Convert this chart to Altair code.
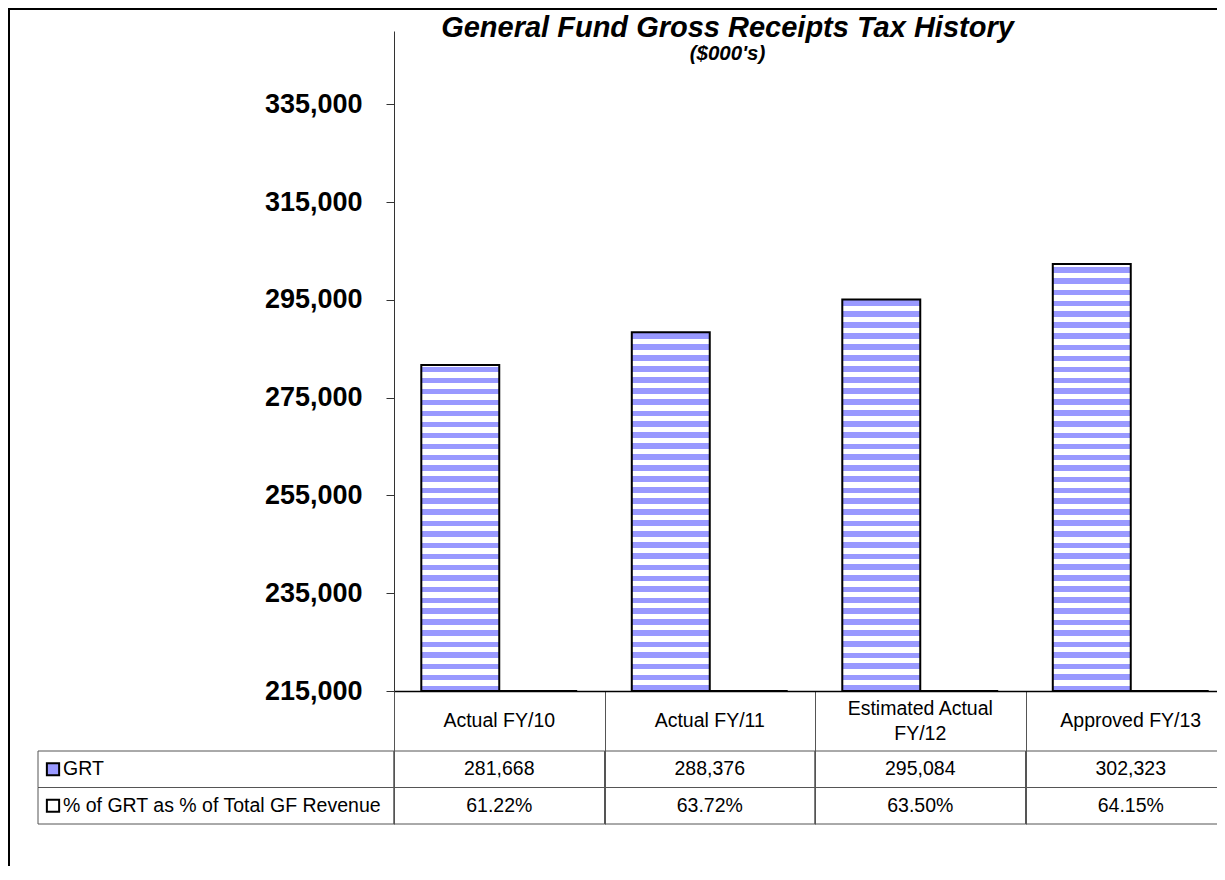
import altair as alt
import pandas as pd

# ---------------- data ----------------
categories = ["Actual FY/10", "Actual FY/11", "Estimated Actual FY/12", "Approved FY/13"]
header_labels = ["Actual FY/10", "Actual FY/11", "Estimated Actual\nFY/12", "Approved FY/13"]
grt_values = [281668, 288376, 295084, 302323]
pct_values = [61.22, 63.72, 63.50, 64.15]
series_names = ["GRT", "% of GRT as % of Total GF Revenue"]
row_ids = ["GRT", "pct"]
y_ticks = [215000, 235000, 255000, 275000, 295000, 315000, 335000]
y_domain = [215000, 350000]

FONT = "Liberation Sans"
LAV = "#9999FF"
PLOT_W = 823
PLOT_H = 660
X_RANGE = [0, 842]
STRIPE = 5.5

bars_df = pd.DataFrame({
    "category": categories * 2,
    "series": [series_names[0]] * 4 + [series_names[1]] * 4,
    "value": grt_values + pct_values,
})

table_df = pd.DataFrame({
    "category": categories * 2,
    "row": [row_ids[0]] * 4 + [row_ids[1]] * 4,
    "text": [f"{v:,}" for v in grt_values] + [f"{v:.2f}%" for v in pct_values],
})

header_df = pd.DataFrame({
    "category": categories,
    "header": header_labels,
    "lines": [h.count("\n") + 1 for h in header_labels],
})

rows_df = pd.DataFrame({"row": row_ids, "label": series_names})


def stripes(value):
    """Horizontal stripe fill (lavender/white) as a hard-stop linear gradient."""
    h = (value - y_domain[0]) / (y_domain[1] - y_domain[0]) * PLOT_H
    bands = []
    pos, i = h, 0
    while pos > 0:
        top = max(pos - STRIPE, 0)
        bands.append((top, pos, LAV if i % 2 == 0 else "white"))
        pos -= STRIPE
        i += 1
    bands.reverse()
    stops = []
    for top, bot, c in bands:
        stops.append(alt.GradientStop(offset=top / h, color=c))
        stops.append(alt.GradientStop(offset=bot / h, color=c))
    return alt.LinearGradient(gradient="linear", stops=stops, x1=0, x2=0, y1=0, y2=1)


# ---------------- encodings ----------------
x_axis = alt.Axis(
    title=None, orient="bottom", labels=False,
    tickSize=133, tickBand="extent", tickColor="#555", tickWidth=1,
    domainColor="black", domainWidth=1.5,
)
x_enc = alt.X(
    "category:N", sort=categories,
    scale=alt.Scale(domain=categories, range=X_RANGE, paddingInner=0, paddingOuter=0),
    axis=x_axis,
)
xoff_enc = alt.XOffset(
    "series:N", sort=series_names,
    scale=alt.Scale(domain=series_names, paddingInner=0, paddingOuter=0.35),
)
y_axis = alt.Axis(
    title=None, values=y_ticks, format=",.0f", labelFont=FONT, labelFontSize=27,
    labelFontWeight="bold", labelColor="black", labelPadding=24, tickSize=8,
    tickColor="#333", domainColor="#333", grid=False,
)
y_enc = alt.Y(
    "value:Q",
    scale=alt.Scale(domain=y_domain, clamp=True, zero=False, nice=False),
    axis=y_axis,
)
y_row = alt.Y(
    "row:N", sort=row_ids,
    scale=alt.Scale(domain=row_ids, range=[720, 793], paddingInner=0, paddingOuter=0),
    axis=None,
)

# ---------------- bars ----------------
grt_layers = [
    alt.Chart(bars_df)
    .transform_filter((alt.datum.series == series_names[0]) & (alt.datum.category == c))
    .mark_bar(fill=stripes(v), stroke="black", strokeWidth=2)
    .encode(x=x_enc, xOffset=xoff_enc, y=y_enc)
    for c, v in zip(categories, grt_values)
]
pct_layer = (
    alt.Chart(bars_df)
    .transform_filter(alt.datum.series == series_names[1])
    .mark_bar(fill="white", stroke="black", strokeWidth=2)
    .encode(x=x_enc, xOffset=xoff_enc, y=y_enc)
)
bars = alt.layer(*grt_layers, pct_layer)

# ---------------- data table ----------------
header_single = alt.Chart(header_df).transform_filter(alt.datum.lines == 1).mark_text(
    font=FONT, fontSize=19.5, color="black", align="center", baseline="middle"
).encode(x=x_enc, y=alt.value(690), text="header:N")
header_multi = alt.Chart(header_df).transform_filter(alt.datum.lines > 1).mark_text(
    font=FONT, fontSize=19.5, color="black", align="center", baseline="middle",
    lineBreak="\n", lineHeight=25, dy=-12.5,
).encode(x=x_enc, y=alt.value(690), text="header:N")

cells = alt.Chart(table_df).mark_rect(fillOpacity=0, stroke="#555", strokeWidth=1).encode(
    x=x_enc, y=y_row
)
cell_text = alt.Chart(table_df).mark_text(
    font=FONT, fontSize=19.5, color="black", align="center", baseline="middle"
).encode(x=x_enc, y=y_row, text="text:N")
label_cells = alt.Chart(rows_df).mark_rect(fillOpacity=0, stroke="#555", strokeWidth=1).encode(
    x=alt.value(-356), x2=alt.value(0), y=y_row
)
keys = alt.Chart(rows_df).mark_point(
    shape="square", filled=True, size=150, stroke="black", strokeWidth=2, opacity=1
).encode(
    x=alt.value(-341), y=y_row,
    fill=alt.Fill("row:N", scale=alt.Scale(domain=row_ids, range=[LAV, "white"]), legend=None),
)
labels = alt.Chart(rows_df).mark_text(
    font=FONT, fontSize=19.5, color="black", align="left", baseline="middle"
).encode(x=alt.value(-331), y=y_row, text="label:N")
table = alt.layer(cells, cell_text, label_cells, keys, labels, header_single, header_multi)

# ---------------- outer frame ----------------
frame = alt.Chart(pd.DataFrame({"f": [0]})).mark_rect(
    fillOpacity=0, stroke="black", strokeWidth=2
).encode(x=alt.value(-385), x2=alt.value(1400), y=alt.value(-22), y2=alt.value(1000))

chart = (
    alt.layer(frame, bars, table)
    .resolve_scale(y="independent")
    .properties(
        width=PLOT_W,
        height=PLOT_H,
        padding={"left": 386, "top": 23, "right": 0, "bottom": 175},
        autosize=alt.AutoSizeParams(type="none"),
        title=alt.TitleParams(
            text="General Fund Gross Receipts Tax History",
            subtitle="($000's)",
            font=FONT, fontSize=29, fontWeight="bold", fontStyle="italic", color="black",
            subtitleFont=FONT, subtitleFontSize=20.5, subtitleFontWeight="bold",
            subtitleFontStyle="italic", subtitleColor="black", subtitlePadding=1,
            anchor="middle", frame="group", dx=-78, offset=-56,
        ),
    )
    .configure(background="white")
    .configure_view(strokeWidth=0, stroke="transparent")
)

chart.save("out.html", embed_options={"renderer": "svg", "actions": False})
